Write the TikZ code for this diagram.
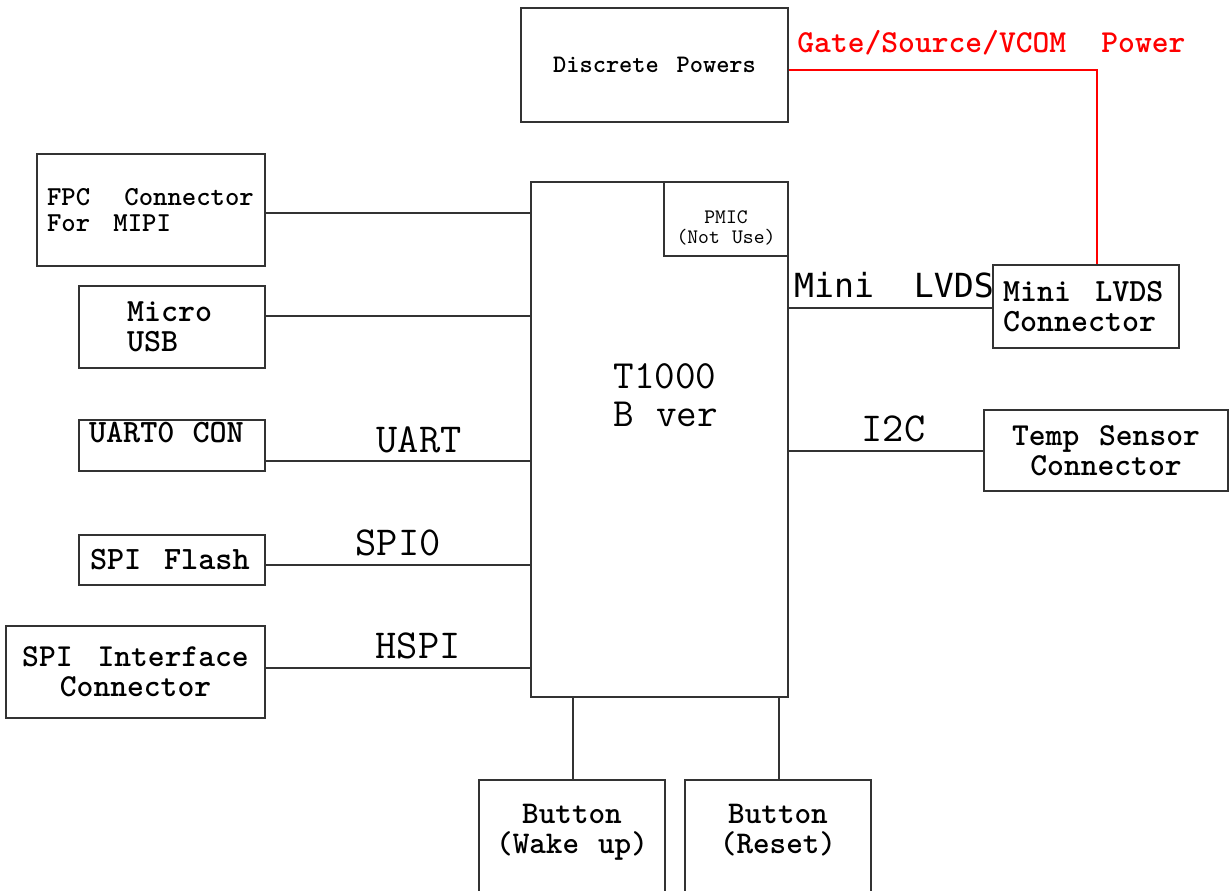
\documentclass[tikz,border=0pt]{standalone}
\usepackage{fontspec}
\newfontfamily\lvdsfont{DejaVu Sans Mono}
\newfontfamily\boxfont{lmmonolt10-bold.otf}
\usepackage{tikz}
\usetikzlibrary{calc}

\tikzset{
  blk/.style={draw=black!80, line width=1pt, inner sep=0pt},
  bus/.style={draw=black!80, line width=1pt},
  pwr/.style={draw=red, line width=1pt},
  sig/.style={inner sep=0pt, font=\ttfamily\fontsize{20.6}{17.5}\selectfont},
}

\begin{document}
\begin{tikzpicture}[x=0.5pt,y=-0.5pt]
    \fill[white] (0,0) rectangle (1229,890);
    \useasboundingbox (0,0) rectangle (1229,890);

    % Main chip with PMIC corner
    \node[blk, minimum width=128.5pt, minimum height=257.5pt] (t1000) at (659.5,439.5) {};
    \node[sig, anchor=west, align=left, font=\ttfamily\fontsize{20}{19}\selectfont] (t1000lbl) at (613,395.5) {T1000\\B\hspace{0.55em}ver};
    \node[blk, minimum width=62pt, minimum height=37pt, text width=62pt, align=center,
          text height=20.7pt, text depth=16.3pt, font=\ttfamily\fontsize{10.3}{10}\selectfont] (pmic) at (726,219) {PMIC\\(Not\hspace{0.6em}Use)};

    % Power block
    \node[blk, minimum width=133.5pt, minimum height=57pt, font=\boxfont\fontsize{12.6}{13}\selectfont] (disc) at (654.5,65) {Discrete\hspace{0.7em}Powers};

    % Left column
    \node[blk, minimum width=114pt, minimum height=56pt, inner xsep=5pt, text width=104pt, align=left,
          font=\boxfont\fontsize{13.7}{13}\selectfont] (fpc) at (151,210) {FPC\hspace{1.25em}Connector\\For\hspace{0.85em}MIPI};
    \node[blk, minimum width=93pt, minimum height=41pt, inner xsep=24pt, text width=45pt, align=left,
          font=\boxfont\fontsize{16.2}{15}\selectfont] (usb) at (172,327) {Micro\\USB};
    \node[blk, minimum width=93pt, minimum height=25.5pt, inner xsep=5pt, text width=83pt, align=left,
          text height=11.25pt, text depth=14.25pt, font=\boxfont\fontsize{16.3}{14}\selectfont] (uart) at (172,445.5) {UART0\hspace{0.55em}CON};
    \node[blk, minimum width=93pt, minimum height=25pt, inner xsep=5.5pt, text width=82pt, align=left,
          font=\boxfont\fontsize{16.3}{14}\selectfont] (flash) at (172,560) {SPI\hspace{0.7em}Flash};
    \node[blk, minimum width=129.5pt, minimum height=46pt, align=center,
          font=\boxfont\fontsize{16}{15}\selectfont] (spiif) at (135.5,672) {SPI\hspace{0.78em}Interface\\Connector};

    % Right column
    \node[blk, minimum width=93pt, minimum height=41.5pt, inner xsep=5pt, text width=83pt, align=left,
          font=\boxfont\fontsize{16.2}{15}\selectfont] (lvds) at (1086,306.5) {Mini\hspace{0.75em}LVDS\\Connector};
    \node[blk, minimum width=122pt, minimum height=40.5pt, align=center,
          font=\boxfont\fontsize{16}{15}\selectfont] (temp) at (1106,450.5) {Temp\hspace{0.62em}Sensor\\Connector};

    % Buttons (cut by the lower edge)
    \node[blk, minimum width=93pt, minimum height=60pt, text width=93pt, align=center,
          text height=21.5pt, text depth=38.5pt, font=\boxfont\fontsize{15.8}{15}\selectfont] (wake) at (572,840) {Button\\(Wake\hspace{0.6em}up)};
    \node[blk, minimum width=93pt, minimum height=60pt, text width=93pt, align=center,
          text height=21.5pt, text depth=38.5pt, font=\boxfont\fontsize{15.8}{15}\selectfont] (reset) at (778,840) {Button\\(Reset)};

    % Buses, left
    \draw[bus] (fpc.east |- 0,213) -- (t1000.west |- 0,213);
    \draw[bus] (usb.east |- 0,316) -- (t1000.west |- 0,316);
    \draw[bus] (uart.east |- 0,461) -- (t1000.west |- 0,461);
    \draw[bus] (flash.east |- 0,565) -- (t1000.west |- 0,565);
    \draw[bus] (spiif.east |- 0,668) -- (t1000.west |- 0,668);
    \node[sig] (lbluart) at (419,440) {UART};
    \node[sig] (lblspi) at (398,543) {SPI0};
    \node[sig] (lblhspi) at (418,646) {HSPI};

    % Buses, right and bottom
    \draw[bus] (t1000.east |- 0,308) -- (lvds.west |- 0,308);
    \draw[bus] (t1000.east |- 0,451) -- (temp.west |- 0,451);
    \draw[bus] (t1000.south -| 573,0) -- (wake.north -| 573,0);
    \draw[bus] (t1000.south -| 779,0) -- (reset.north -| 779,0);
    \node[inner sep=0pt, font=\lvdsfont\fontsize{16.6}{17}\selectfont] (lbllvds) at (894,285) {Mini~~LVDS};
    \node[sig] (lbli2c) at (893.5,429) {I2C};

    % Panel power
    \draw[pwr] (disc.east |- 0,70) -| (lvds.north -| 1097,0);
    \node[anchor=west, inner sep=0pt, red, font=\boxfont\fontsize{16}{14}\selectfont] (lblpwr) at (797,43) {Gate/Source/VCOM\hspace{1.1em}Power};
\end{tikzpicture}
\end{document}
